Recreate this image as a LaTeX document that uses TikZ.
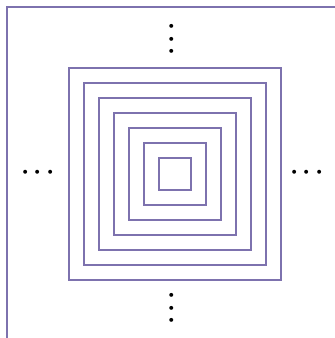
\documentclass[tikz,border=0pt]{standalone}
\usetikzlibrary{positioning}
\definecolor{lframe}{HTML}{7D72AE}
\newcommand{\dotrow}{${\cdot}\kern0.55pt{\cdot}\kern0.55pt{\cdot}$}
\begin{document}
\begin{tikzpicture}[x=1pt,y=-1pt,line width=2pt,
  every node/.style={inner sep=0pt,scale=3.7}]
  \useasboundingbox (0,0) rectangle (335,338);
  % corner of the big frame
  \draw[lframe] (6.5,338) -- (6.5,7) -- (335,7);
  % nested squares
  \foreach \i in {0,...,6} {
    \draw[lframe] (68.5+\i*15,67.5+\i*15) rectangle (280.5-\i*15,279.5-\i*15);
  }
  \node[rotate=90] (dtop) at (172.5,39) {\dotrow};
  \node[rotate=90] (dbot) at (172.5,308) {\dotrow};
  \node (dleft) at (38,173.5) {\dotrow};
  \node (dright) at (307,173.5) {\dotrow};
\end{tikzpicture}
\end{document}
